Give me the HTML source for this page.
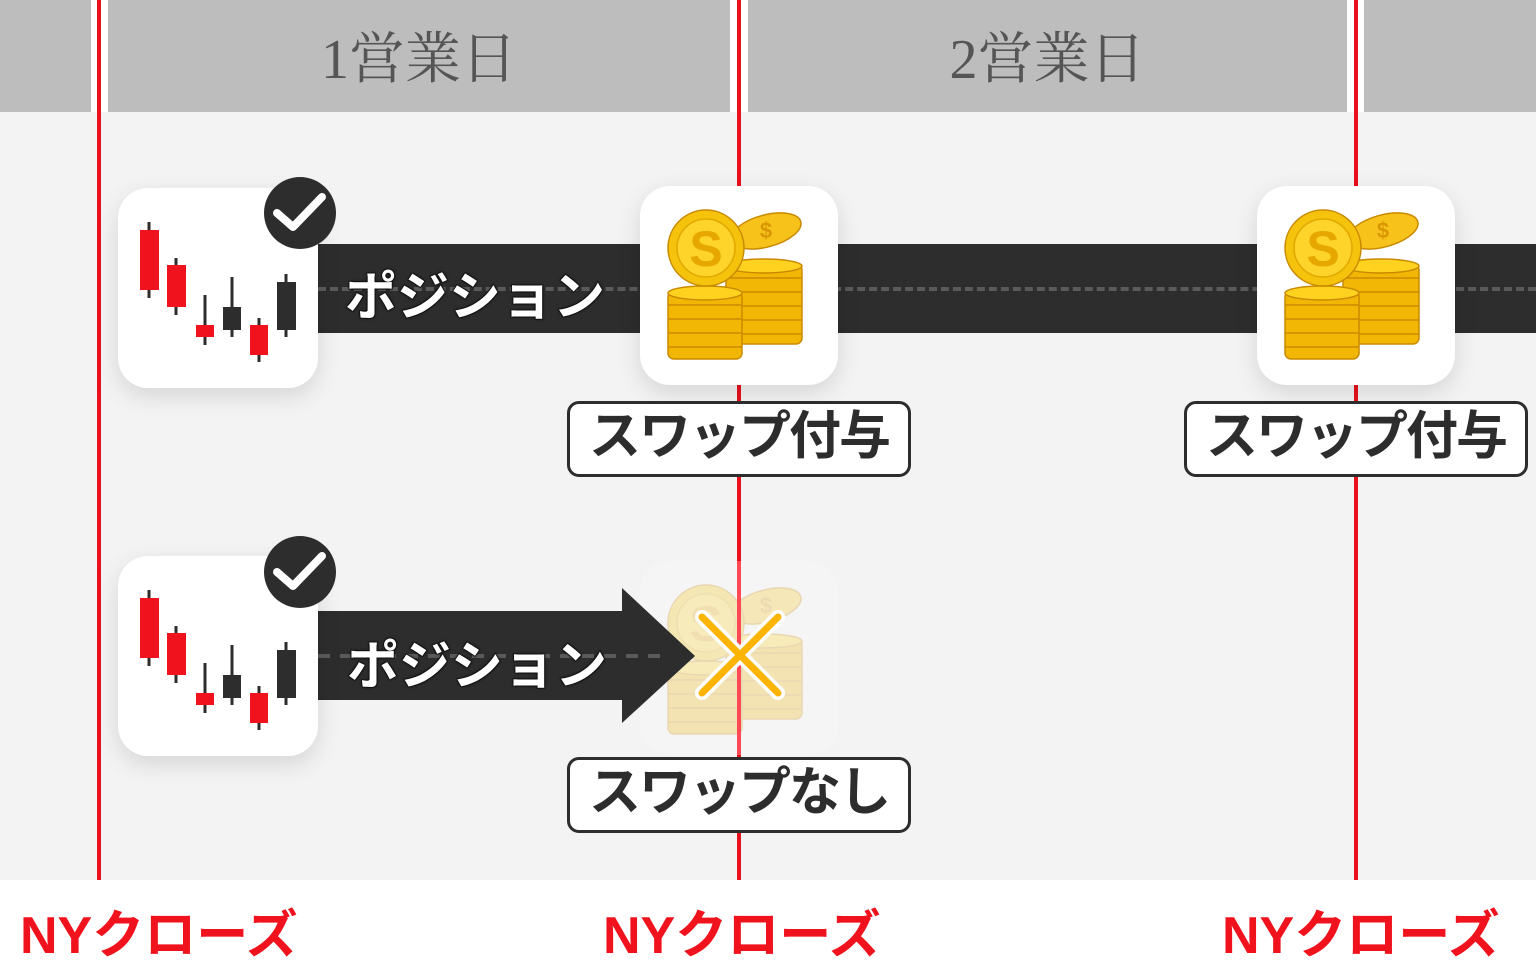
<!DOCTYPE html>
<html><head><meta charset="utf-8"><style>
*{margin:0;padding:0;box-sizing:border-box}
body{width:1536px;height:970px;overflow:hidden;background:#fff;position:relative;font-family:"Liberation Sans","Noto Sans CJK JP",sans-serif}
.a{position:absolute}
.hd{top:0;height:112px;background:#bdbdbd;color:#555;font-size:56px;text-align:center;line-height:120px;font-family:"Liberation Serif","Noto Serif CJK SC",serif}
.red{top:0;height:880px;width:4px;background:#e8101c}
.card{background:#fff;border-radius:30px;box-shadow:0 8px 24px rgba(0,0,0,0.12)}
.lab{background:#fff;border:3px solid #2d2d2d;border-radius:12px;font-weight:bold;color:#2d2d2d;font-size:52px;text-align:center;line-height:66px;letter-spacing:-2px}
.ny{top:906px;color:#f0131d;font-weight:bold;font-size:52px;letter-spacing:0px;line-height:60px}
.pos{color:#fff;font-weight:bold;font-size:52px;letter-spacing:0px;-webkit-text-stroke:2px #1a1a1a;paint-order:stroke fill;text-shadow:0 0 3px #000}
</style></head><body>
<div class="a" style="left:0;top:112px;width:1536px;height:768px;background:#f3f3f3"></div>
<div class="a hd" style="left:0;width:91px"></div>
<div class="a hd" style="left:108px;width:622px">1営業日</div>
<div class="a hd" style="left:748px;width:599px">2営業日</div>
<div class="a hd" style="left:1364px;width:172px"></div>
<div class="a red" style="left:97px"></div>
<div class="a red" style="left:737px"></div>
<div class="a red" style="left:1354px"></div>

<!-- row1 bar -->
<div class="a" style="left:318px;top:244px;width:1218px;height:89px;background:#2d2d2d"></div>
<div class="a" style="left:318px;top:287px;width:1218px;height:0;border-top:4px dashed #5a5a5a"></div>
<div class="a pos" style="left:345px;top:255px">ポジション</div>

<svg width="0" height="0" style="position:absolute"><defs>
<g id="cand">
<line x1="31" y1="34" x2="31" y2="110" stroke="#2d2d2d" stroke-width="3"/><rect x="22" y="42" width="19" height="60" fill="#f0131d"/>
<line x1="58" y1="70" x2="58" y2="127" stroke="#2d2d2d" stroke-width="3"/><rect x="49" y="77" width="19" height="42" fill="#f0131d"/>
<line x1="87" y1="107" x2="87" y2="157" stroke="#2d2d2d" stroke-width="3"/><rect x="78" y="137" width="18" height="12" fill="#f0131d"/>
<line x1="114" y1="89" x2="114" y2="149" stroke="#2d2d2d" stroke-width="3"/><rect x="105" y="119" width="18" height="23" fill="#2d2d2d"/>
<line x1="141" y1="130" x2="141" y2="174" stroke="#2d2d2d" stroke-width="3"/><rect x="132" y="137" width="18" height="30" fill="#f0131d"/>
<line x1="168" y1="86" x2="168" y2="149" stroke="#2d2d2d" stroke-width="3"/><rect x="159" y="94" width="19" height="48" fill="#2d2d2d"/>
</g>
<g id="coins">
<g fill="#f2b705" stroke="#c98a00" stroke-width="1.5">
<rect x="86" y="78" width="76" height="80" rx="6"/>
<line x1="86" y1="92" x2="162" y2="92"/><line x1="86" y1="106" x2="162" y2="106"/><line x1="86" y1="120" x2="162" y2="120"/><line x1="86" y1="134" x2="162" y2="134"/><line x1="86" y1="148" x2="162" y2="148"/>
<ellipse cx="124" cy="80" rx="38" ry="7" fill="#ffd21f"/>
<rect x="28" y="105" width="74" height="68" rx="6"/>
<line x1="28" y1="119" x2="102" y2="119"/><line x1="28" y1="133" x2="102" y2="133"/><line x1="28" y1="147" x2="102" y2="147"/><line x1="28" y1="161" x2="102" y2="161"/>
<ellipse cx="65" cy="107" rx="37" ry="7" fill="#ffd21f"/>
<ellipse cx="126" cy="45" rx="36" ry="16" transform="rotate(-15 126 45)" fill="#f7c21a"/>
<circle cx="66" cy="62" r="38" fill="#f5c20c"/>
<circle cx="66" cy="62" r="29" fill="#ffd42a" stroke="#e0a800"/>
</g>
<text x="66" y="80" font-size="50" font-weight="bold" fill="#e6a700" text-anchor="middle" font-family="Liberation Sans">S</text>
<text x="126" y="52" font-size="22" font-weight="bold" fill="#d99600" text-anchor="middle" font-family="Liberation Sans">$</text>
</g>
</defs></svg>

<!-- faded card (behind arrow) -->
<div class="a" style="left:640px;top:561px;width:198px;height:194px;background:#f6f6f6;border-radius:30px;opacity:.9"><svg width="198" height="194" style="opacity:.3"><use href="#coins"/></svg></div>
<div class="a" style="left:737px;top:561px;width:4px;height:194px;background:#ff4a55"></div>

<!-- row2 arrow -->
<svg class="a" style="left:318px;top:588px" width="380" height="136"><polygon points="0,23 304,23 304,0 377,68 304,135 304,112 0,112" fill="#2d2d2d"/><line x1="0" y1="68" x2="345" y2="68" stroke="#5a5a5a" stroke-width="4" stroke-dasharray="12,10"/></svg>
<div class="a pos" style="left:347px;top:624px">ポジション</div>

<div class="a card" style="left:118px;top:188px;width:200px;height:200px"><svg width="200" height="200"><use href="#cand"/></svg></div>
<div class="a card" style="left:118px;top:556px;width:200px;height:200px"><svg width="200" height="200"><use href="#cand"/></svg></div>
<svg class="a" style="left:262px;top:175px" width="76" height="76"><circle cx="38" cy="38" r="36" fill="#2d2d2d"/><path d="M15 38 L31 52 L60 22" stroke="#fff" stroke-width="8" fill="none" stroke-linecap="round" stroke-linejoin="round"/></svg>
<svg class="a" style="left:262px;top:534px" width="76" height="76"><circle cx="38" cy="38" r="36" fill="#2d2d2d"/><path d="M15 38 L31 52 L60 22" stroke="#fff" stroke-width="8" fill="none" stroke-linecap="round" stroke-linejoin="round"/></svg>

<div class="a card" style="left:640px;top:186px;width:198px;height:199px"><svg width="198" height="199"><use href="#coins"/></svg></div>
<div class="a card" style="left:1257px;top:186px;width:198px;height:199px"><svg width="198" height="199"><use href="#coins"/></svg></div>

<svg class="a" style="left:690px;top:605px" width="100" height="100"><g stroke="#fff" stroke-width="14" stroke-linecap="round"><line x1="12" y1="12" x2="88" y2="88"/><line x1="88" y1="12" x2="12" y2="88"/></g><g stroke="#fbb400" stroke-width="7" stroke-linecap="round"><line x1="12" y1="12" x2="88" y2="88"/><line x1="88" y1="12" x2="12" y2="88"/></g></svg>

<div class="a lab" style="left:567px;top:401px;width:344px;height:76px">スワップ付与</div>
<div class="a lab" style="left:1184px;top:401px;width:344px;height:76px">スワップ付与</div>
<div class="a lab" style="left:567px;top:757px;width:344px;height:76px">スワップなし</div>

<div class="a ny" style="left:20px">NYクローズ</div>
<div class="a ny" style="left:603px">NYクローズ</div>
<div class="a ny" style="left:1222px">NYクローズ</div>
</body></html>
